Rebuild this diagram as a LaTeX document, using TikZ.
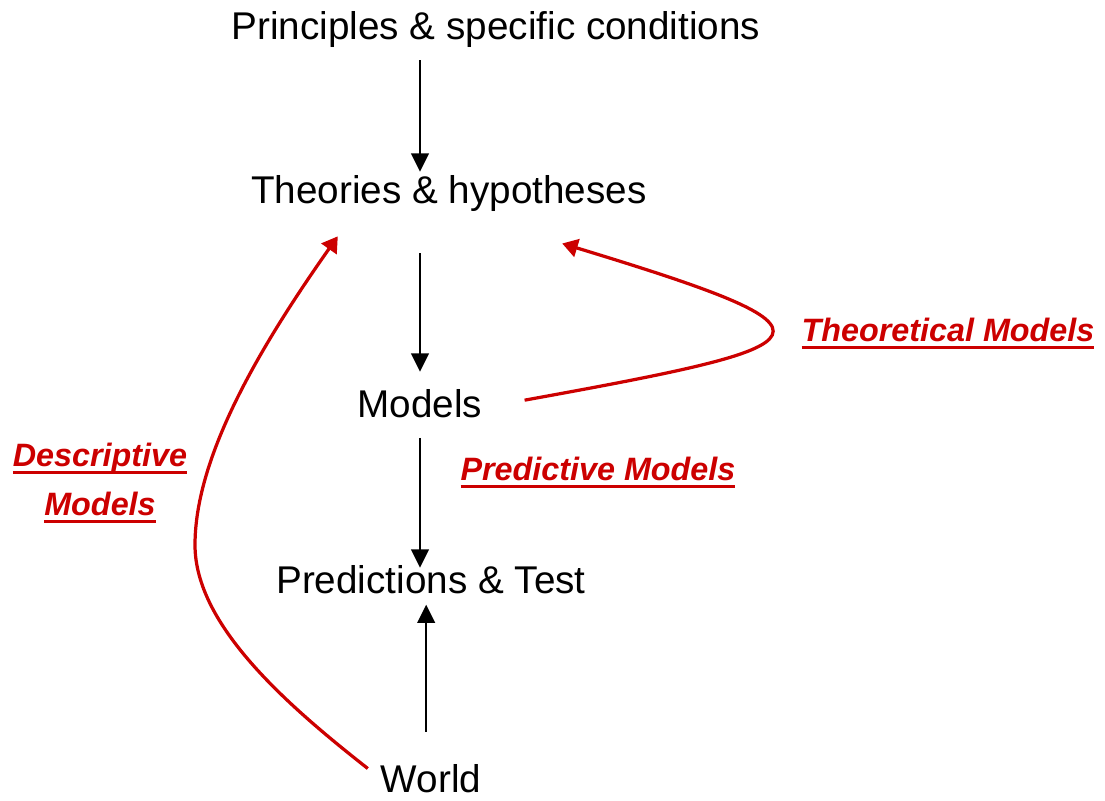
\documentclass[tikz,border=0pt]{standalone}
\usepackage{fontspec}
\setmainfont{Liberation Sans}
\usepackage{xcolor}
\usetikzlibrary{arrows.meta}
\definecolor{modelred}{RGB}{204,0,0}
\newlength{\ulwd}
\newcommand{\redul}[1]{\settowidth{\ulwd}{#1}\rlap{#1}\rule[-5.1pt]{\ulwd}{2.1pt}}

\begin{document}
\begin{tikzpicture}[
  lbl/.style={font=\fontsize{27.5}{33}\selectfont, inner sep=0.1cm},
  mdl/.style={font=\fontsize{23}{34.9}\selectfont\bfseries\itshape, text=modelred, align=center, inner sep=0pt},
  blk/.style={line width=1.8pt, -{Triangle[length=13pt,width=12.5pt]}},
  redarr/.style={line width=2.3pt, draw=modelred, -{Triangle[length=11pt,width=13pt]}}
]
\useasboundingbox (0,0) rectangle (27.625,20);

\node[lbl,anchor=base] (principles) at (12.4,19.0) {Principles \& specific conditions};
\node[lbl,anchor=base] (theories) at (11.225,14.9) {Theories \& hypotheses};
\node[lbl,anchor=base] (models) at (10.5,9.55) {Models};
\node[lbl,anchor=base] (predictions) at (10.775,5.15) {Predictions \& Test};
\node[lbl,anchor=base] (world) at (10.775,0.2) {World};

\node[mdl,anchor=base] (theoretical) at (23.7,11.45) {\redul{Theoretical Models}};
\node[mdl,anchor=base] (predictive) at (14.95,7.975) {\redul{Predictive Models}};
\node[mdl] (descriptive) at (2.5,7.925) {\redul{Descriptive}\\\redul{Models}};

\draw[blk, shorten <=0.2cm] (principles.south -| models.south) -- (theories.north -| models.south);
\draw[blk, shorten <=0.92cm, shorten >=0.35cm] (theories.south -| models.south) -- (models.north);
\draw[blk, shorten <=0.38cm, shorten >=-0.15cm] (models.south) -- (predictions.north -| models.south);
\draw[blk, shorten <=0.7cm, shorten >=0.15cm] ([xshift=-0.12cm]world.north) -- ([xshift=-0.12cm]predictions.south);

\draw[redarr] ([shift={(-0.22,-0.22)}]world.north west) .. controls (7.175,2.375) and (4.875,4.375) .. (4.875,6.375)
  .. controls (4.875,8.625) and (6.55,11.4) .. ([shift={(-2.78,-0.5)}]theories.south);
\draw[redarr] ([shift={(0.95,0.1)}]models.east) .. controls (20.85,11.4) and (21.46,11.66) .. ([shift={(2.83,-0.68)}]theories.south);
\end{tikzpicture}
\end{document}
